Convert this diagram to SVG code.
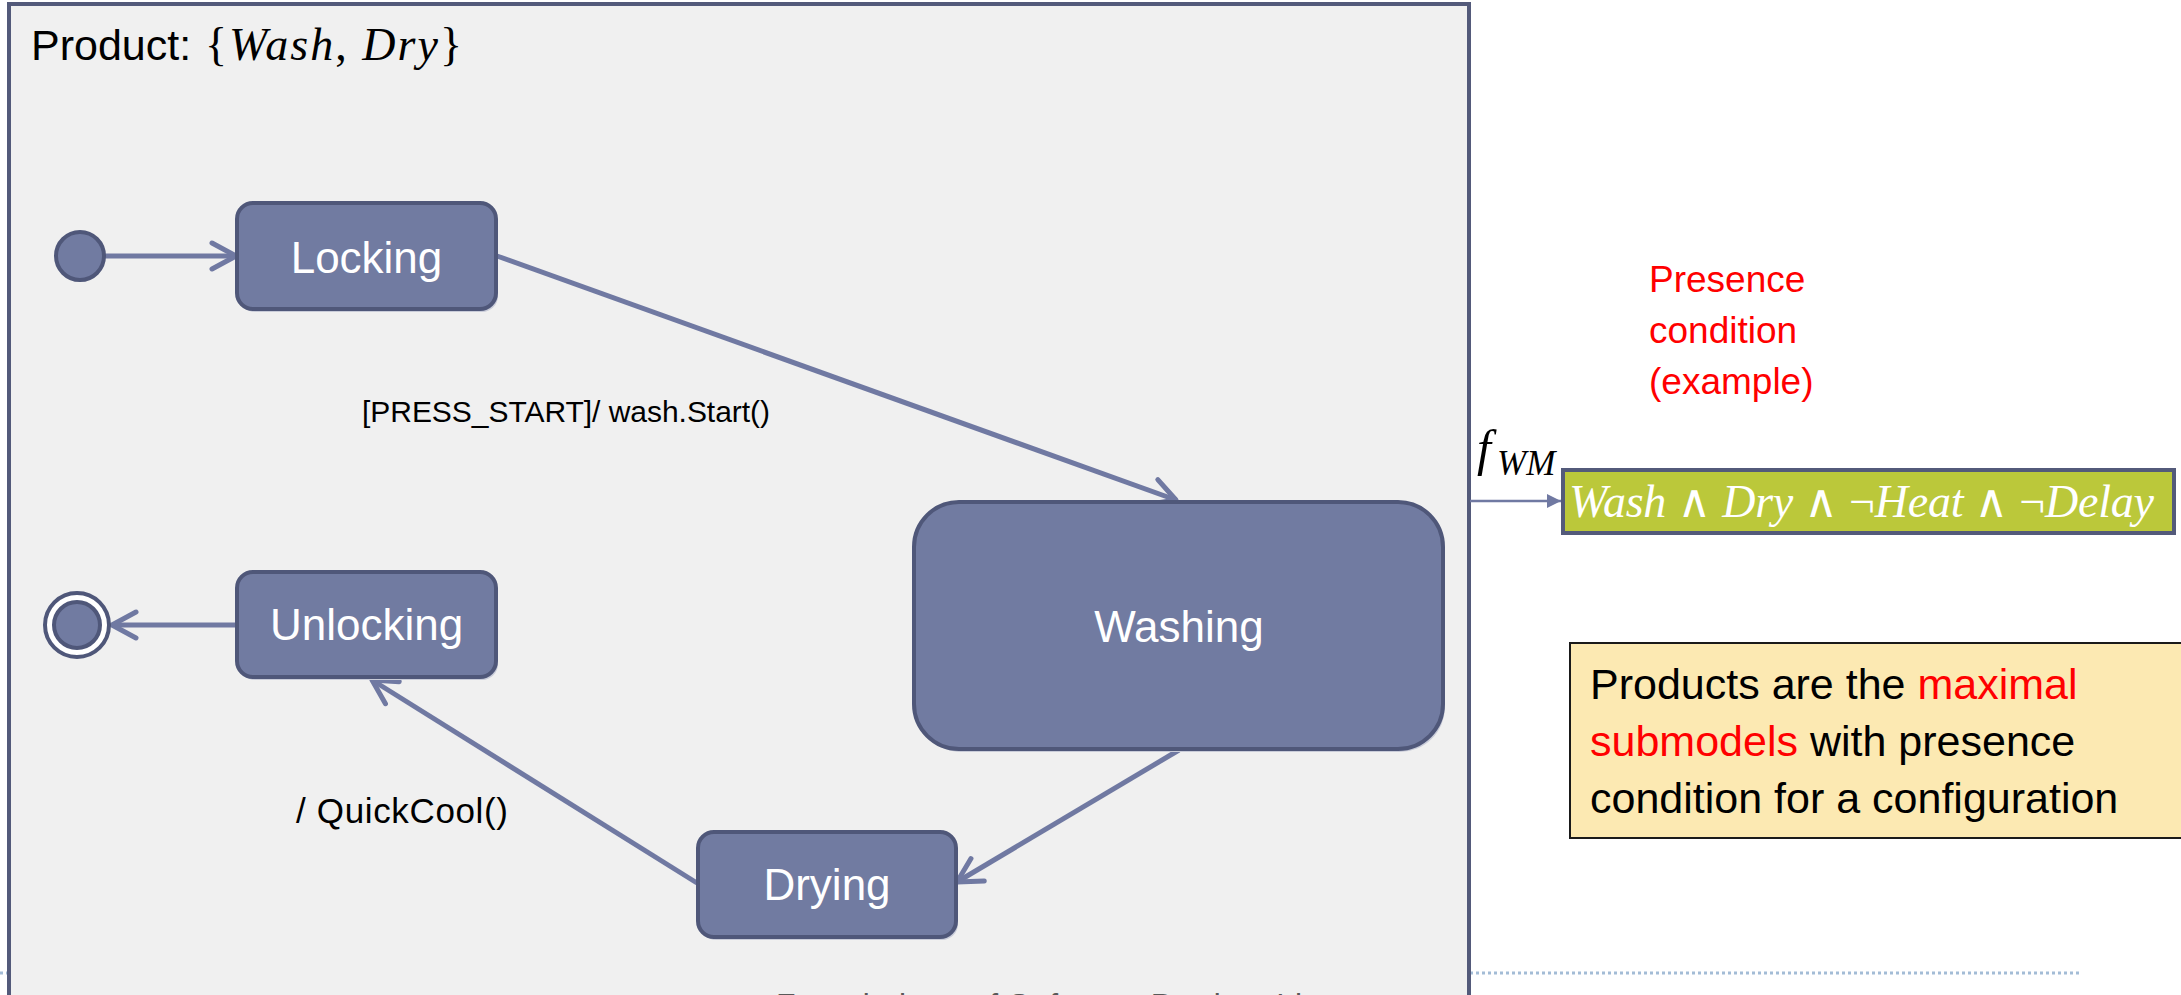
<svg xmlns="http://www.w3.org/2000/svg" width="2181" height="995" viewBox="0 0 2181 995">
  <style>
    .frame { fill: #f0f0f0; stroke: #535a7a; stroke-width: 4; }
    .state { fill: #717ba1; stroke: #4f5779; stroke-width: 4; }
    .shadow { fill: #c9ccd9; }
    .state-label { font-family: "Liberation Sans", Arial, sans-serif; font-size: 44px; fill: #ffffff; text-anchor: middle; }
    .edge { fill: none; stroke: #7079a2; stroke-width: 5; }
    .edge-label { font-family: "Liberation Sans", Arial, sans-serif; font-size: 30px; fill: #000000; }
    .math { font-family: "Liberation Serif", "DejaVu Serif", serif; }
    .red-note { font-family: "Liberation Sans", Arial, sans-serif; font-size: 37px; fill: #ff0000; }
    .note { font-family: "Liberation Sans", Arial, sans-serif; font-size: 43px; fill: #000000; }
    .hl { fill: #ff0000; }
  </style>
  <defs>
    <marker id="open-arrow" markerUnits="userSpaceOnUse" markerWidth="34" markerHeight="34" refX="27" refY="16" orient="auto" overflow="visible">
      <path d="M3,3 L27,16 L3,29" fill="none" stroke="#7079a2" stroke-width="5" stroke-linecap="round" stroke-linejoin="round"/>
    </marker>
    <marker id="solid-arrow" markerUnits="userSpaceOnUse" markerWidth="16" markerHeight="16" refX="14" refY="7" orient="auto">
      <path d="M0,0 L14,7 L0,14 Z" fill="#7079a2"/>
    </marker>
  </defs>

  <rect width="2181" height="995" fill="#ffffff"/>

  <!-- slide footer rule -->
  <line x1="0" y1="973" x2="2082" y2="973" stroke="#a3bcd6" stroke-width="3" stroke-dasharray="3,3"/>

  <!-- product frame -->
  <g id="product-frame">
    <rect class="frame" x="9" y="4" width="1460" height="1100"/>
    <text x="31" y="60" font-family="Liberation Sans, Arial, sans-serif" font-size="43">Product: </text>
    <text class="math" x="205" y="60" font-size="46" textLength="257"><tspan>{</tspan><tspan font-style="italic">Wash</tspan><tspan>, </tspan><tspan font-style="italic">Dry</tspan><tspan>}</tspan></text>
  </g>

  <!-- footer caption, clipped by the page edge -->
  <text x="776" y="1016" font-family="Liberation Sans, Arial, sans-serif" font-size="32" fill="#595959" textLength="580">Foundations of Software Product Lines</text>

  <!-- transitions -->
  <g id="connectors">
    <line class="edge" x1="105" y1="256" x2="236" y2="256" marker-end="url(#open-arrow)"/>
    <line class="edge" x1="497" y1="256" x2="1176" y2="500" marker-end="url(#open-arrow)"/>
    <line class="edge" x1="1179" y1="750" x2="957" y2="882" marker-end="url(#open-arrow)"/>
    <line class="edge" x1="697" y1="883" x2="372" y2="680" marker-end="url(#open-arrow)"/>
    <line class="edge" x1="237" y1="625" x2="112" y2="625" marker-end="url(#open-arrow)"/>
    <text class="edge-label" x="362" y="422" textLength="408">[PRESS_START]/ wash.Start()</text>
    <text class="edge-label" x="296" y="823" style="font-size:35px" textLength="212">/ QuickCool()</text>
    <line x1="1470" y1="501" x2="1561" y2="501" stroke="#7079a2" stroke-width="2.5" marker-end="url(#solid-arrow)"/>
  </g>

  <!-- pseudo states -->
  <g id="initial">
    <circle cx="80" cy="256" r="24" fill="#717ba1" stroke="#4f5779" stroke-width="4"/>
  </g>
  <g id="final">
    <circle cx="77" cy="625" r="32" fill="#ffffff" stroke="#4f5779" stroke-width="4"/>
    <circle cx="77" cy="625" r="23" fill="#717ba1" stroke="#4f5779" stroke-width="4"/>
  </g>

  <!-- states -->
  <g id="locking">
    <rect class="shadow" x="239" y="206" width="259" height="106" rx="16"/>
    <rect class="state" x="237" y="203" width="259" height="106" rx="16"/>
    <text class="state-label" x="366.5" y="273">Locking</text>
  </g>
  <g id="unlocking">
    <rect class="shadow" x="239" y="575" width="259" height="105" rx="16"/>
    <rect class="state" x="237" y="572" width="259" height="105" rx="16"/>
    <text class="state-label" x="366.5" y="640">Unlocking</text>
  </g>
  <g id="washing">
    <rect class="shadow" x="916" y="505" width="529" height="247" rx="45"/>
    <rect class="state" x="914" y="502" width="529" height="247" rx="45"/>
    <text class="state-label" x="1179" y="642">Washing</text>
  </g>
  <g id="drying">
    <rect class="shadow" x="700" y="835" width="258" height="105" rx="16"/>
    <rect class="state" x="698" y="832" width="258" height="105" rx="16"/>
    <text class="state-label" x="827" y="900">Drying</text>
  </g>

  <!-- presence condition -->
  <g id="presence-caption">
    <text class="red-note" x="1649" y="292">Presence</text>
    <text class="red-note" x="1649" y="343">condition</text>
    <text class="red-note" x="1649" y="394">(example)</text>
  </g>
  <g id="presence-condition">
    <text class="math" x="1477" y="465" font-size="50" font-style="italic">f</text>
    <text class="math" x="1497" y="475" font-size="35" font-style="italic">WM</text>
    <rect x="1563" y="470" width="611" height="63" fill="#bbc83a" stroke="#535a7a" stroke-width="4"/>
    <text class="math" x="1569" y="517" font-size="46" fill="#ffffff" textLength="585"><tspan font-style="italic">Wash</tspan><tspan> ∧ </tspan><tspan font-style="italic">Dry</tspan><tspan> ∧ ¬</tspan><tspan font-style="italic">Heat</tspan><tspan> ∧ ¬</tspan><tspan font-style="italic">Delay</tspan></text>
  </g>

  <!-- remark -->
  <g id="remark">
    <rect x="1570" y="643" width="620" height="195" fill="#fce9b2" stroke="#1a1a1a" stroke-width="2"/>
    <text class="note" x="1590" y="699">Products are the <tspan class="hl">maximal</tspan></text>
    <text class="note" x="1590" y="756"><tspan class="hl">submodels</tspan> with presence</text>
    <text class="note" x="1590" y="813">condition for a configuration</text>
  </g>
</svg>
